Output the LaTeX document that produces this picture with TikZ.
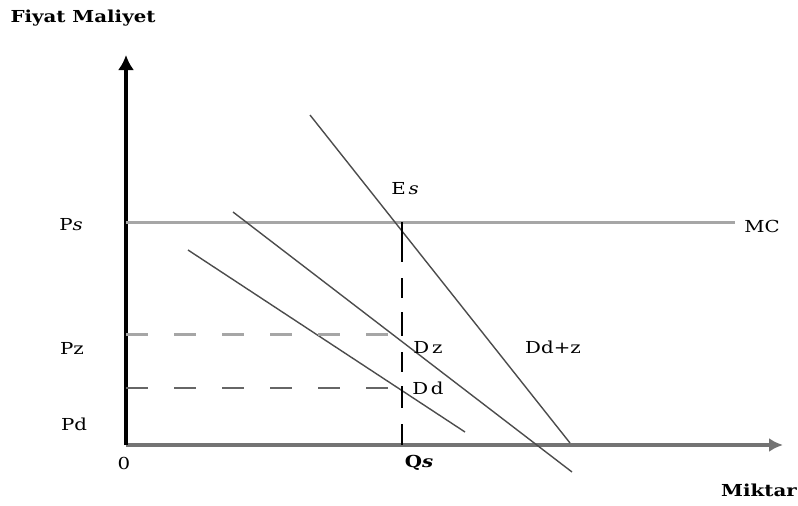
\documentclass[tikz,border=0pt]{standalone}
\usepackage{fontspec}
\usetikzlibrary{arrows.meta}
\setmainfont{DejaVu Serif}
\newfontfamily\lblfont[FakeStretch=1.2]{DejaVu Serif}
\begin{document}
\begin{tikzpicture}[x=1pt,y=-1pt,
  lbl/.style={font=\lblfont\fontsize{16.5}{18}\selectfont, inner sep=0pt},
  ttl/.style={font=\lblfont\bfseries\fontsize{16.5}{18}\selectfont, inner sep=0pt},
  curve/.style={draw=black!70, line width=1.4pt},
  dsh/.style={dash pattern=on 22pt off 26pt}]
\useasboundingbox (0,0) rectangle (798,506);
% axes
\coordinate (O) at (126,445);
\coordinate (ytip) at (126,55);
\coordinate (xtip) at (783,445);
\draw[line width=4.5pt, draw=black!55, -{Latex[length=14pt,width=14pt]}] (O) -- (xtip);
\draw[line width=4pt, -{Latex[length=15pt,width=16pt]}] (O) -- (ytip);
% MC
\coordinate (mc0) at (126,222);
\coordinate (mc1) at (735,222);
\draw[line width=3pt, draw=black!35] (mc0) -- (mc1);
\node[lbl] (MC) at (762,226) {MC};
% demand curves
\coordinate (a0) at (310,115); \coordinate (a1) at (570,443);
\coordinate (b0) at (233,212); \coordinate (b1) at (572,472);
\coordinate (c0) at (188,250); \coordinate (c1) at (465,432);
\draw[curve] (a0) -- (a1);
\draw[curve] (b0) -- (b1);
\draw[curve] (c0) -- (c1);
% dashed lines
\coordinate (pz0) at (126,334); \coordinate (pz1) at (402,334);
\coordinate (pd0) at (126,388); \coordinate (pd1) at (402,388);
\coordinate (q0) at (402,222); \coordinate (q1) at (402,445);
\draw[dsh, draw=black!35, line width=3pt] (pz0) -- (pz1);
\draw[dsh, draw=black!60, line width=2pt] (pd0) -- (pd1);
\draw[line width=1.6pt, dash pattern=on 40pt off 16pt on 20pt off 14pt on 24pt off 16pt on 20pt off 14pt on 22pt off 16pt] (q0) -- (q1);
% labels
\node[ttl] (title) at (83,18) {Fiyat Maliyet};
\node[ttl, anchor=east] (mk) at (797,490) {Miktar};
\node[lbl] (Ps) at (71,225) {P\textit{s}};
\node[lbl] (Pz) at (72,348) {Pz};
\node[lbl] (Pd) at (74,424) {Pd};
\node[lbl] (zero) at (124,463) {0};
\node[lbl, font=\lblfont\fontsize{16.5}{18}\selectfont\bfseries] (Qs) at (419,463) {Q\textit{s}};
\node[lbl] (Es) at (405,189) {E\,\textit{s}};
\node[lbl] (Dz) at (428,347) {D\,z};
\node[lbl] (Dd) at (428,388) {D\,d};
\node[lbl] (Ddz) at (553,347) {Dd+z};
\end{tikzpicture}
\end{document}
